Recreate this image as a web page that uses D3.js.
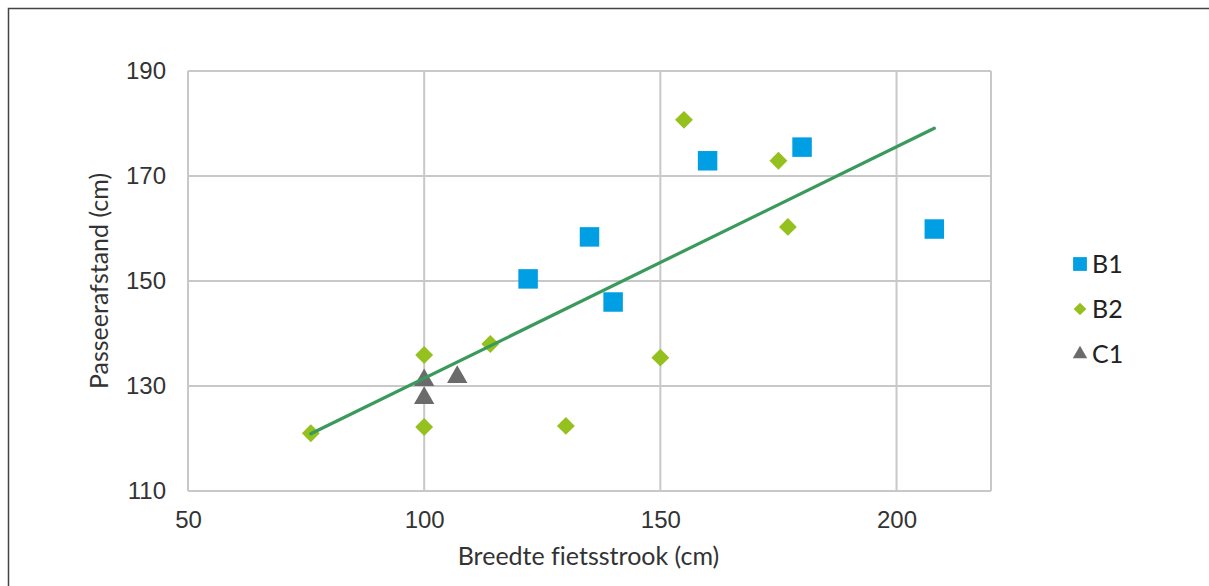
<!DOCTYPE html>
<html>
<head>
<meta charset="utf-8">
<script src="https://cdn.jsdelivr.net/npm/d3@7"></script>
<style>
  body { margin: 0; background: #fff; }
  svg { display: block; font-family: Lato, "Open Sans", sans-serif; font-variant-ligatures: none; }
  .grid line { stroke: #c8c8c8; stroke-width: 2; }
  .tick text { fill: #333; font-size: 24px; }
</style>
</head>
<body>
<svg id="chart" width="1209" height="586"></svg>
<script>
// series values
const b1X = [122, 135, 140, 160, 180, 208];
const b1Y = [150.4, 158.4, 146, 172.9, 175.5, 159.9];
const b2X = [76, 100, 100, 114, 130, 150, 155, 175, 177];
const b2Y = [121, 135.9, 122.2, 138, 122.4, 135.4, 180.7, 172.9, 160.3];
const c1X = [100, 100, 107];
const c1Y = [131.1, 127.7, 131.7];
const trendX = [76, 208];
const trendY = [120.9, 179.1];
const xTicks = [50, 100, 150, 200];
const yTicks = [110, 130, 150, 170, 190];
const seriesNames = ['B1', 'B2', 'C1'];

const svg = d3.select('#chart');
const plot = { left: 188, top: 71, right: 991, bottom: 491 };

// frame round the whole figure
svg.append('rect')
    .attr('x', 8.5).attr('y', 8.5).attr('width', 1300).attr('height', 700)
    .attr('fill', 'none').attr('stroke', '#444').attr('stroke-width', 1.5);

const x = d3.scaleLinear().domain([50, 220]).range([plot.left, plot.right]);
const y = d3.scaleLinear().domain([110, 190]).range([plot.bottom, plot.top]);

// gridlines
const grid = svg.append('g').attr('class', 'grid');
grid.selectAll('.gx').data(xTicks.concat([220])).join('line')
    .attr('x1', d => x(d)).attr('x2', d => x(d))
    .attr('y1', plot.top).attr('y2', plot.bottom);
grid.selectAll('.gy').data(yTicks).join('line')
    .attr('x1', plot.left).attr('x2', plot.right)
    .attr('y1', d => y(d)).attr('y2', d => y(d));

// axes, only for the labels
svg.append('g')
    .attr('transform', `translate(0,${plot.bottom})`)
    .call(d3.axisBottom(x).tickValues(xTicks).tickSize(0).tickPadding(20))
    .call(g => g.select('.domain').remove());
svg.append('g')
    .attr('transform', `translate(${plot.left},0)`)
    .call(d3.axisLeft(y).tickValues(yTicks).tickSize(0).tickPadding(22))
    .call(g => g.select('.domain').remove());

svg.append('text')
    .attr('x', (plot.left + plot.right) / 2 - 1).attr('y', 565)
    .attr('text-anchor', 'middle').attr('font-size', 25).attr('fill', '#333')
    .text('Breedte fietsstrook (cm)');
svg.append('text')
    .attr('transform', `translate(108,${(plot.top + plot.bottom) / 2}) rotate(-90)`)
    .attr('text-anchor', 'middle').attr('font-size', 25).attr('fill', '#333')
    .text('Passeerafstand (cm)');

const symbols = {
    B1: { type: d3.symbolSquare, size: 380, fill: '#009fe3', rot: 0 },
    B2: { type: d3.symbolSquare, size: 160, fill: '#95c11f', rot: 45 },
    C1: { type: d3.symbolTriangle, size: 180, fill: '#6b6b6b', rot: 0 }
};
const seriesData = [
    { name: 'B1', pts: b1X.map((v, i) => [v, b1Y[i]]) },
    { name: 'B2', pts: b2X.map((v, i) => [v, b2Y[i]]) },
    { name: 'C1', pts: c1X.map((v, i) => [v, c1Y[i]]) }
];

const marks = svg.append('g');
seriesData.forEach(s => {
    const sym = symbols[s.name];
    marks.selectAll(null).data(s.pts).join('path')
        .attr('d', d3.symbol().type(sym.type).size(sym.size))
        .attr('transform', d => `translate(${x(d[0])},${y(d[1])}) rotate(${sym.rot})`)
        .attr('fill', sym.fill);
});

// trendline
svg.append('path')
    .datum(trendX.map((v, i) => [v, trendY[i]]))
    .attr('d', d3.line().x(d => x(d[0])).y(d => y(d[1])))
    .attr('fill', 'none').attr('stroke', '#3a9a5c').attr('stroke-width', 3.2)
    .attr('stroke-linecap', 'round');

// legend
const legend = svg.append('g').attr('transform', 'translate(1080,264)');
seriesNames.forEach((n, i) => {
    const sym = symbols[n];
    const g = legend.append('g').attr('transform', `translate(0,${i * 45})`);
    g.append('path')
        .attr('d', d3.symbol().type(sym.type).size(sym.size * 0.5))
        .attr('transform', `rotate(${sym.rot})`)
        .attr('fill', sym.fill);
    g.append('text').attr('x', 12).attr('y', 9)
        .attr('font-size', 25).attr('fill', '#222').text(n);
});
</script>
</body>
</html>
